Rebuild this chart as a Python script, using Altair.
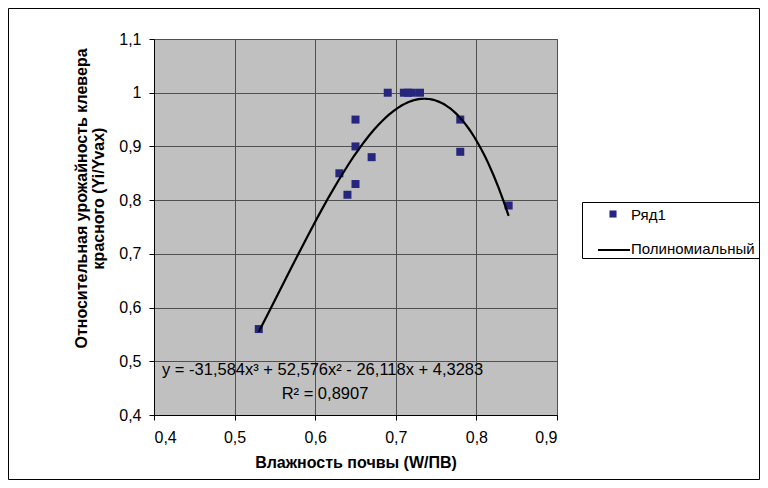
import altair as alt
import pandas as pd

# ---- data ----
moisture = [0.53, 0.63, 0.64, 0.65, 0.65, 0.65, 0.67, 0.69, 0.71, 0.715, 0.72, 0.73, 0.78, 0.78, 0.84]
rel_yield = [0.56, 0.85, 0.81, 0.95, 0.90, 0.83, 0.88, 1.00, 1.00, 1.00, 1.00, 1.00, 0.95, 0.89, 0.79]

x_ticks = [0.4, 0.5, 0.6, 0.7, 0.8, 0.9]
y_ticks = [0.4, 0.5, 0.6, 0.7, 0.8, 0.9, 1.0, 1.1]

x_title = "Влажность почвы (W/ПВ)"
y_title = ["Относительная урожайность клевера", "красного (Yi/Yvax)"]
equation = "y = -31,584x³ + 52,576x² - 26,118x + 4,3283"
r_squared = "R² = 0,8907"
legend_labels = ["Ряд1", "Полиномиальный"]

FONT = "Liberation Sans"
FS = 16
W, H = 403, 376

df = pd.DataFrame({"x": moisture, "y": rel_yield})

label_expr = "replace(format(datum.value, '~g'), '.', ',')"

xscale = alt.Scale(domain=[0.4, 0.9], nice=False, zero=False)
yscale = alt.Scale(domain=[0.4, 1.1], nice=False, zero=False)

xaxis = alt.Axis(values=x_ticks, labelExpr=label_expr, title=x_title,
                 grid=True, gridColor="#505050", gridOpacity=1, gridWidth=1,
                 domainColor="black", tickColor="black", tickSize=5,
                 labelPadding=9, labelFont=FONT, labelFontSize=FS, labelColor="black",
                 titleFont=FONT, titleFontSize=FS, titleFontWeight="bold",
                 titleColor="black", titleY=47, titleBaseline="middle")
yaxis = alt.Axis(values=y_ticks, labelExpr=label_expr, title=y_title,
                 grid=True, gridColor="#505050", gridOpacity=1, gridWidth=1,
                 domainColor="black", tickColor="black", tickSize=5,
                 labelPadding=8, labelFont=FONT, labelFontSize=FS, labelColor="black",
                 titleFont=FONT, titleFontSize=FS, titleFontWeight="bold",
                 titleColor="black", titleX=-73, titleY=159, titleAngle=-90,
                 titleAlign="center", titleBaseline="middle", titleLineHeight=17)

points = alt.Chart(df).mark_square(size=64, color="#26267E", opacity=1).encode(
    x=alt.X("x:Q", scale=xscale, axis=xaxis),
    y=alt.Y("y:Q", scale=yscale, axis=yaxis),
)

trend = alt.Chart(df).transform_regression(
    "x", "y", method="poly", order=3, extent=[0.53, 0.84]
).mark_line(color="black", strokeWidth=2.2).encode(
    x=alt.X("x:Q", scale=xscale),
    y=alt.Y("y:Q", scale=yscale),
)

one = pd.DataFrame({"a": [0]})

eq_text = alt.Chart(one).mark_text(
    text=equation, font=FONT, fontSize=16.5, align="left", baseline="middle", color="black"
).encode(x=alt.value(8), y=alt.value(331))

r2_text = alt.Chart(one).mark_text(
    text=r_squared, font=FONT, fontSize=16.5, align="center", baseline="middle", color="black"
).encode(x=alt.value(171), y=alt.value(355))

# legend (drawn by hand, outside the plot area)
leg_box = alt.Chart(one).mark_rect(fill="white", stroke="black", strokeWidth=1).encode(
    x=alt.value(428.5), x2=alt.value(640), y=alt.value(163.5), y2=alt.value(219.5)
)
leg_sq = alt.Chart(one).mark_square(size=50, color="#26267E", opacity=1).encode(
    x=alt.value(459), y=alt.value(175)
)
leg_t1 = alt.Chart(one).mark_text(
    text=legend_labels[0], font=FONT, fontSize=15, align="left", baseline="middle", color="black"
).encode(x=alt.value(477), y=alt.value(176))
leg_line = alt.Chart(one).mark_rule(color="black", strokeWidth=2).encode(
    x=alt.value(444), x2=alt.value(476), y=alt.value(211)
)
leg_t2 = alt.Chart(one).mark_text(
    text=legend_labels[1], font=FONT, fontSize=15, align="left", baseline="middle", color="black"
).encode(x=alt.value(477), y=alt.value(210))

border = alt.Chart(one).mark_rect(fillOpacity=0, stroke="black", strokeWidth=1).encode(
    x=alt.value(-145.5), x2=alt.value(605.5), y=alt.value(-30.5), y2=alt.value(440.5)
)

chart = alt.layer(
    points, trend, eq_text, r2_text, leg_box, leg_sq, leg_t1, leg_line, leg_t2, border
).properties(
    width=W, height=H,
    autosize=alt.AutoSizeParams(type="none"),
    padding={"left": 146, "top": 31, "right": 203, "bottom": 65},
    background="white",
).configure_view(fill="#C0C0C0", stroke="#505050", strokeWidth=1)

chart.save("out.html", embed_options={"renderer": "svg", "actions": False})
